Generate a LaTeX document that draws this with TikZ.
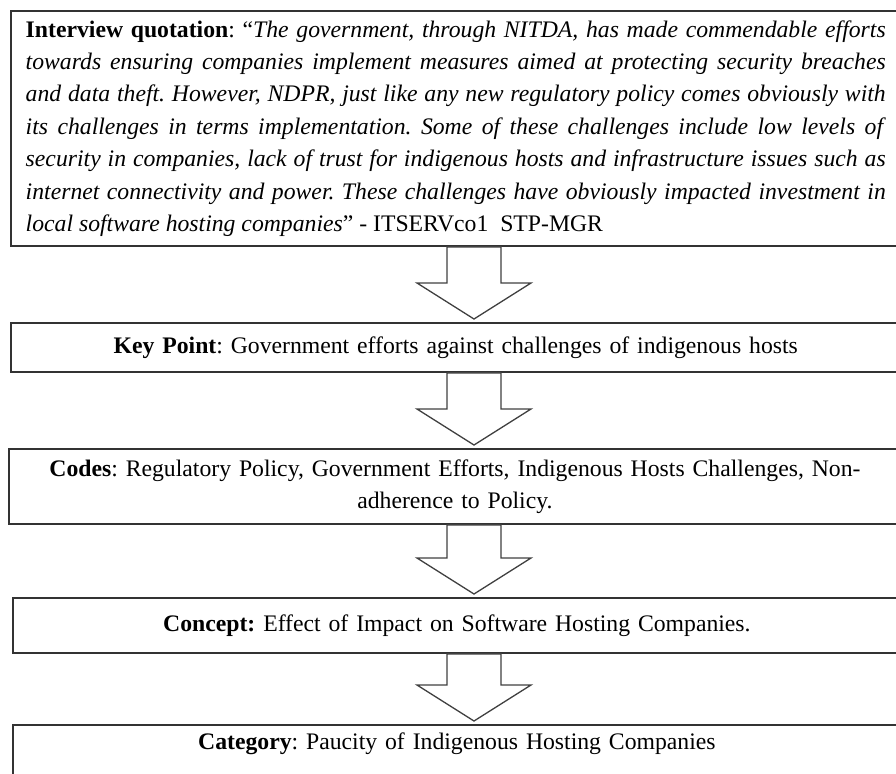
\documentclass[tikz,border=0pt]{standalone}
\usepackage{fontspec}
\setmainfont{Liberation Serif}
\usetikzlibrary{calc}
\frenchspacing

% block arrow from the bottom of one box to the top of the next
\newcommand{\blockarrow}[2]{%
 \draw[arrowline] ($(axis |- #1.south)+(-27,0)$) -- ($(axis |- #2.north)+(-27,-39)$)
   -- ($(axis |- #2.north)+(-57,-39)$) -- ($(axis |- #2.north)+(0,-3)$)
   -- ($(axis |- #2.north)+(57,-39)$) -- ($(axis |- #2.north)+(27,-39)$)
   -- ($(axis |- #1.south)+(27,0)$) -- cycle;}

\begin{document}
\begin{tikzpicture}[x=0.54pt,y=-0.54pt,
  box/.style={draw=black!80, line width=1pt, fill=white, anchor=north west,
    inner xsep=8pt, font={\fontsize{12.8}{17.5}\selectfont}},
  arrowline/.style={draw=black!75, line width=0.7pt, fill=white, line join=miter}]

 \useasboundingbox (0,0) rectangle (896,773);
 \clip (0,0) rectangle (896,773);
 \coordinate (axis) at (474,0);

 % boxes
 \node[box, text width=464.4pt, align=justify, minimum height=126.9pt] (quote) at (10,10)
  {\textbf{Interview quotation}: “\textit{The government, through NITDA, has made commendable efforts}\linebreak
   \textit{towards ensuring companies implement measures aimed at protecting security breaches}\linebreak
   \textit{and data theft. However, NDPR, just like any new regulatory policy comes obviously with}\linebreak
   \textit{its challenges in terms implementation. Some of these challenges include low levels of}\linebreak
   \textit{security in companies, lack of trust for indigenous hosts and infrastructure issues such as}\linebreak
   \textit{internet connectivity and power. These challenges have obviously impacted investment in}\linebreak
   \textit{local software hosting companies}” - ITSERVco1\ \ STP-MGR};
 \node[box, text width=464.4pt, align=center, minimum height=26.5pt] (keypoint) at (10,322)
  {\textbf{Key Point}: Government efforts against challenges of indigenous hosts};
 \node[box, text width=465.7pt, align=center, minimum height=40.5pt] (codes) at (8,448)
  {\textbf{Codes}: Regulatory Policy, Government Efforts, Indigenous Hosts Challenges, Non-\\adherence to Policy.};
 \node[box, text width=463.5pt, align=center, minimum height=29.7pt] (concept) at (12,597)
  {\textbf{Concept:} Effect of Impact on Software Hosting Companies.};
 \node[box, text width=463.5pt, align=center, inner ysep=4pt, text height=9pt, text depth=40pt] (category) at (12,724)
  {\textbf{Category}: Paucity of Indigenous Hosting Companies};

 % arrows
 \blockarrow{quote}{keypoint}
 \blockarrow{keypoint}{codes}
 \blockarrow{codes}{concept}
 \blockarrow{concept}{category}

\end{tikzpicture}
\end{document}
